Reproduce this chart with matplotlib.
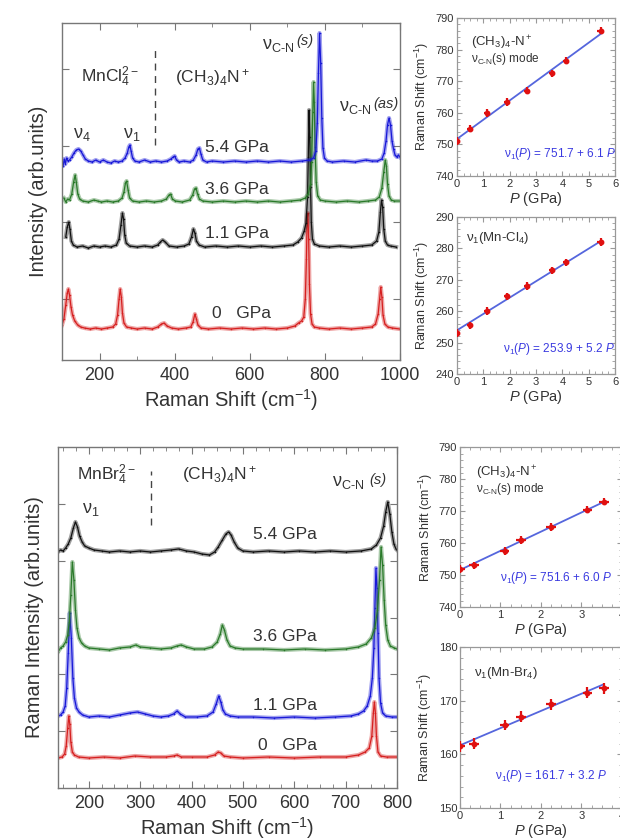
import matplotlib
matplotlib.use("Agg")
import matplotlib.pyplot as plt
from matplotlib.ticker import MultipleLocator, FixedLocator
import numpy as np

plt.rcParams['font.family'] = ['Liberation Sans', 'DejaVu Sans']
plt.rcParams['mathtext.fontset'] = 'custom'
plt.rcParams['mathtext.rm'] = 'Liberation Sans'
plt.rcParams['mathtext.it'] = 'Liberation Sans:italic'
plt.rcParams['mathtext.bf'] = 'Liberation Sans:bold'

TXT = '#333333'
SPINE = '#777777'

# ---------------- Raman spectra, (CH3)4N MnCl4 (shift cm-1, intensity above baseline) ----
cl_0gpa = [(100, 4), (105, 10), (110, 24), (114, 36), (117, 40), (120, 34), (124, 22), (128, 14),
           (134, 8), (142, 4), (150, 2), (160, 1), (175, 0), (190, 1), (205, 0), (220, 1), (235, 2),
           (243, 5), (248, 14), (252, 30), (255, 40), (258, 32), (261, 16), (265, 6), (272, 2),
           (285, 1), (300, 0), (320, 1), (340, 0), (355, 2), (365, 5), (372, 6), (380, 3), (392, 1),
           (410, 0), (430, 1), (443, 2), (449, 7), (454, 15), (458, 10), (462, 4), (470, 1), (490, 0),
           (520, 1), (550, 0), (580, 1), (610, 0), (640, 1), (670, 0), (700, 1), (720, 3), (730, 6),
           (738, 8), (744, 12), (748, 30), (751, 70), (753, 110), (755, 116), (757, 90), (759, 45),
           (762, 15), (766, 5), (772, 2), (785, 1), (810, 0), (840, 1), (870, 0), (900, 1), (925, 2),
           (935, 5), (942, 15), (946, 30), (949, 42), (952, 32), (955, 14), (960, 5), (968, 2),
           (980, 1), (1000, 0)]
cl_1p1gpa = [(110, 10), (114, 20), (118, 25), (121, 18), (125, 6), (130, 2), (140, 0), (155, 1),
             (170, -1), (185, 1), (200, 0), (215, 1), (230, 0), (245, 2), (252, 8), (257, 22),
             (261, 34), (264, 28), (267, 12), (271, 4), (280, 1), (300, 0), (320, 1), (340, 0),
             (355, 2), (362, 5), (368, 7), (375, 5), (385, 1), (405, 0), (425, 1), (438, 3), (445, 10),
             (450, 18), (454, 14), (458, 6), (465, 2), (480, 0), (510, 1), (540, 0), (570, 1), (600, 0),
             (630, 1), (660, 0), (690, 1), (715, 2), (728, 5), (738, 9), (745, 16), (750, 24),
             (754, 50), (756, 90), (758, 137), (760, 110), (762, 60), (764, 25), (767, 8), (772, 3),
             (785, 1), (810, 0), (840, 1), (870, 0), (900, 1), (925, 2), (938, 6), (944, 15),
             (948, 35), (951, 47), (954, 40), (957, 18), (961, 6), (967, 2), (975, 1), (990, 0)]
cl_3p6gpa = [(105, 4), (110, 0), (115, 3), (120, 2), (126, 8), (131, 20), (135, 27), (138, 20),
             (142, 8), (147, 3), (155, 1), (170, 0), (185, 2), (195, 1), (205, 0), (220, 1), (235, 0),
             (250, 1), (260, 4), (265, 10), (269, 19), (272, 21), (276, 12), (280, 4), (288, 1),
             (305, 0), (325, 1), (345, 0), (365, 1), (378, 3), (385, 7), (389, 8), (394, 3), (402, 1),
             (420, 0), (440, 2), (448, 7), (453, 13), (457, 14), (461, 8), (466, 3), (475, 1), (500, 0),
             (530, 1), (560, 0), (590, 1), (620, 0), (650, 1), (680, 0), (710, 1), (735, 2), (748, 4),
             (756, 8), (762, 18), (765, 40), (768, 90), (770, 120), (772, 100), (774, 55), (777, 20),
             (781, 6), (788, 2), (800, 1), (830, 0), (860, 1), (890, 0), (915, 1), (935, 2), (945, 5),
             (952, 14), (957, 30), (961, 42), (964, 36), (967, 18), (971, 6), (977, 2), (985, 1),
             (1000, 1)]
cl_5p4gpa = [(100, 2), (103, -3), (106, 4), (109, -1), (112, 5), (116, 2), (120, 3), (126, 6),
             (132, 10), (138, 13), (144, 14), (150, 12), (156, 8), (162, 4), (170, 2), (180, 1),
             (190, 3), (200, 1), (210, 3), (220, 1), (230, 0), (240, 2), (250, 1), (260, 2), (268, 5),
             (274, 10), (278, 16), (281, 18), (284, 12), (288, 5), (294, 2), (305, 1), (320, 3),
             (335, 1), (350, 2), (365, 1), (380, 2), (390, 4), (396, 6), (400, 7), (405, 3), (412, 1),
             (425, 2), (440, 1), (450, 3), (457, 8), (462, 14), (466, 15), (470, 9), (475, 3), (485, 1),
             (500, 2), (530, 1), (560, 2), (590, 1), (620, 2), (650, 1), (680, 2), (710, 1), (740, 2),
             (760, 3), (770, 5), (776, 12), (780, 40), (783, 90), (786, 130), (789, 100), (792, 45),
             (795, 15), (799, 5), (806, 2), (820, 1), (850, 2), (880, 1), (910, 3), (925, 2), (940, 2),
             (952, 4), (958, 10), (963, 22), (967, 38), (971, 45), (975, 38), (979, 22), (983, 14),
             (987, 8), (992, 6), (996, 8), (1000, 6)]

# ---------------- Raman spectra, (CH3)4N MnBr4 ----------------
br_0gpa = [(140, 0), (148, 1), (153, 4), (156, 12), (159, 30), (161, 42), (163, 34), (165, 16),
           (168, 6), (172, 3), (180, 1), (200, 0), (230, 1), (260, 0), (290, 2), (320, 1), (350, 1),
           (365, 2), (372, 3), (380, 1), (400, 1), (430, 1), (445, 3), (452, 6), (457, 5), (463, 2),
           (475, 1), (500, 0), (550, 1), (600, 0), (650, 1), (700, 1), (725, 3), (738, 6), (746, 10),
           (751, 22), (754, 45), (756, 56), (758, 45), (760, 22), (763, 6), (768, 2), (780, 1),
           (800, 1)]
br_1p1gpa = [(140, 2), (145, 3), (150, 6), (154, 12), (157, 30), (160, 65), (163, 105), (166, 80),
             (169, 40), (172, 20), (176, 10), (181, 6), (188, 3), (200, 1), (220, 2), (240, 1),
             (260, 3), (280, 5), (295, 6), (310, 4), (325, 2), (340, 1), (355, 2), (365, 4), (372, 7),
             (378, 4), (388, 1), (410, 1), (430, 2), (442, 6), (448, 14), (453, 22), (457, 16),
             (461, 8), (466, 4), (475, 2), (490, 1), (520, 1), (560, 0), (600, 1), (640, 0), (680, 1),
             (710, 2), (725, 4), (735, 7), (742, 12), (748, 22), (752, 40), (755, 70), (757, 110),
             (759, 150), (761, 130), (763, 85), (765, 40), (768, 15), (772, 5), (778, 2), (790, 1),
             (800, 1)]
br_3p6gpa = [(140, -2), (145, 2), (150, 4), (155, 8), (159, 15), (162, 28), (165, 55), (168, 88),
             (171, 70), (174, 40), (177, 22), (181, 12), (186, 7), (192, 4), (200, 2), (220, 1),
             (240, 0), (260, 2), (280, 3), (292, 5), (300, 3), (320, 2), (340, 1), (360, 2), (372, 4),
             (380, 5), (390, 3), (405, 1), (425, 1), (440, 3), (450, 8), (456, 16), (460, 25),
             (464, 20), (469, 10), (475, 4), (485, 2), (500, 1), (540, 1), (580, 0), (620, 1), (660, 0),
             (700, 1), (725, 3), (740, 6), (750, 12), (757, 22), (762, 40), (766, 70), (769, 103),
             (772, 85), (775, 50), (778, 25), (782, 10), (787, 4), (795, 2), (800, 1)]
br_5p4gpa = [(140, 0), (145, 2), (150, 1), (155, 4), (160, 8), (165, 14), (170, 24), (174, 30),
             (178, 25), (182, 16), (187, 10), (192, 6), (200, 4), (210, 2), (225, 1), (240, 0),
             (260, 1), (280, 0), (300, 1), (320, 0), (340, 1), (360, 2), (375, 3), (390, 1), (405, 0),
             (420, -2), (435, -3), (445, 0), (452, 5), (460, 12), (467, 18), (472, 20), (477, 17),
             (483, 10), (490, 4), (500, 1), (520, 0), (550, 1), (580, 0), (610, 1), (640, 0), (670, 1),
             (700, 0), (730, 1), (750, 3), (760, 7), (768, 14), (774, 26), (778, 40), (782, 50),
             (786, 38), (790, 20), (794, 8), (798, 3), (800, 2)]

pressure_labels = ['0   GPa', '1.1 GPa', '3.6 GPa', '5.4 GPa']
spec_colors = ['#d62020', '#111111', '#2a7a2a', '#1818d8']
br_colors = ['#d62020', '#1818d8', '#2a7a2a', '#111111']

# ---------------- Pressure dependence of mode frequencies ----------------
p_cl = [0.0, 0.5, 1.15, 1.9, 2.65, 3.6, 4.15, 5.45]
cn_cl = [751.0, 755.0, 760.0, 763.5, 767.0, 772.5, 776.5, 786.0]
mncl = [253.0, 255.5, 260.0, 264.7, 268.0, 273.0, 275.5, 282.0]
p_br = [0.0, 0.35, 1.1, 1.5, 2.25, 3.15, 3.55]
cn_br = [752.0, 753.0, 757.5, 761.0, 765.0, 770.5, 773.0]
mnbr = [161.5, 162.0, 165.5, 167.0, 169.3, 171.5, 172.3]

fits = {
    'cn_cl': (751.7, 6.1),
    'mncl': (253.9, 5.2),
    'cn_br': (751.6, 6.0),
    'mnbr': (161.7, 3.2),
}

fig = plt.figure(figsize=(6.2, 8.4), dpi=100)


def style_spectrum_axes(ax):
    for s in ax.spines.values():
        s.set_color(SPINE)
        s.set_linewidth(1.0)
    ax.tick_params(axis='both', which='both', direction='in', top=True, right=True,
                   color=SPINE, labelcolor=TXT)
    ax.tick_params(axis='x', which='major', length=5, labelsize=13, pad=5)
    ax.tick_params(axis='x', which='minor', length=3)
    ax.tick_params(axis='y', which='major', length=5, labelleft=False)


def draw_spectrum(ax, data, offset, color):
    x = [d[0] for d in data]
    y = [d[1] + offset for d in data]
    ax.plot(x, y, color=color, lw=3.0, alpha=0.4, solid_joinstyle='round')
    ax.plot(x, y, color=color, lw=0.9, marker='.', ms=2.2, mew=0)


# ---------- upper spectra ----------
ax1 = fig.add_axes([0.100, 0.5714, 0.545, 0.4012])
cl_sets = [cl_0gpa, cl_1p1gpa, cl_3p6gpa, cl_5p4gpa]
cl_offsets = [31, 113, 158, 197]
for d, off, c in zip(cl_sets, cl_offsets, spec_colors):
    draw_spectrum(ax1, d, off, c)
ax1.set_xlim(100, 1000)
ax1.set_ylim(0, 337)
ax1.xaxis.set_major_locator(MultipleLocator(200))
ax1.xaxis.set_minor_locator(MultipleLocator(100))
ax1.yaxis.set_major_locator(FixedLocator([61, 138, 214, 291]))
style_spectrum_axes(ax1)
ax1.set_xlabel('Raman Shift (cm$^{-1}$)', fontsize=14.5, color=TXT, labelpad=2)
ax1.set_ylabel('Intensity (arb.units)', fontsize=14.5, color=TXT, labelpad=10)

for lab, y in zip(pressure_labels, [47, 127, 171, 213]):
    x = 500 if lab.startswith('0') else 482
    ax1.text(x, y, lab, fontsize=12.5, color=TXT, va='center', ha='left')
ax1.text(150, 283, 'MnCl$_4^{2-}$', fontsize=12.5, color=TXT, va='center')
ax1.text(402, 283, '(CH$_3$)$_4$N$^+$', fontsize=12.5, color=TXT, va='center')
ax1.plot([349, 349], [215, 312], color='#444444', lw=1.0, ls=(0, (5, 4)))
ax1.text(128, 226, 'ν$_4$', fontsize=13, color=TXT, va='center')
ax1.text(262, 226, 'ν$_1$', fontsize=13, color=TXT, va='center')
ax1.text(633, 315, 'ν$_{\\rm C\\text{-}N}$', fontsize=13, color=TXT, va='center')
ax1.text(725, 319, '(s)', fontsize=10.5, color=TXT, va='center', style='italic')
ax1.text(839, 253, 'ν$_{\\rm C\\text{-}N}$', fontsize=13, color=TXT, va='center')
ax1.text(928, 256, '(as)', fontsize=10.5, color=TXT, va='center', style='italic')

# ---------- lower spectra ----------
ax2 = fig.add_axes([0.0935, 0.0619, 0.5468, 0.406])
br_sets = [br_0gpa, br_1p1gpa, br_3p6gpa, br_5p4gpa]
br_offsets = [30, 70, 138, 236]
for d, off, c in zip(br_sets, br_offsets, br_colors):
    draw_spectrum(ax2, d, off, c)
ax2.set_xlim(140, 800)
ax2.set_ylim(0, 341)
ax2.xaxis.set_major_locator(MultipleLocator(100))
ax2.xaxis.set_minor_locator(MultipleLocator(25))
ax2.yaxis.set_major_locator(FixedLocator([57, 114, 170, 227, 284]))
style_spectrum_axes(ax2)
ax2.set_xlabel('Raman Shift (cm$^{-1}$)', fontsize=14.5, color=TXT, labelpad=2)
ax2.set_ylabel('Raman Intensity (arb.units)', fontsize=14.5, color=TXT, labelpad=10)

for lab, y in zip(pressure_labels, [42, 82, 151, 253]):
    x = 530 if lab.startswith('0') else 520
    ax2.text(x, y, lab, fontsize=12.5, color=TXT, va='center', ha='left')
ax2.text(177, 313, 'MnBr$_4^{2-}$', fontsize=12.5, color=TXT, va='center')
ax2.text(381, 313, '(CH$_3$)$_4$N$^+$', fontsize=12.5, color=TXT, va='center')
ax2.plot([322, 322], [263, 317], color='#444444', lw=1.0, ls=(0, (5, 4)))
ax2.text(186, 278, 'ν$_1$', fontsize=13, color=TXT, va='center')
ax2.text(673, 305, 'ν$_{\\rm C\\text{-}N}$', fontsize=13, color=TXT, va='center')
ax2.text(746, 308, '(s)', fontsize=10.5, color=TXT, va='center', style='italic')


# ---------- pressure dependence panels ----------
def pressure_panel(rect, p, w, fit, xmax, ylim, ystep, title_lines, title_xy, eq_xy, yerr):
    ax = fig.add_axes(rect)
    ax.errorbar(p, w, xerr=0.12, yerr=yerr, fmt='o', ms=3.2, color='#e01010',
                ecolor='#e01010', elinewidth=1.6, capsize=0, zorder=3)
    a, b = fit
    px = np.array([0.0, max(p)])
    ax.plot(px, a + b * px, color='#5566dd', lw=1.3, zorder=2)
    ax.set_xlim(0, xmax)
    ax.set_ylim(*ylim)
    ax.xaxis.set_major_locator(MultipleLocator(1))
    ax.xaxis.set_minor_locator(MultipleLocator(0.25))
    ax.yaxis.set_major_locator(MultipleLocator(ystep))
    ax.yaxis.set_minor_locator(MultipleLocator(ystep / 5))
    for s in ax.spines.values():
        s.set_color('#999999')
        s.set_linewidth(0.9)
    ax.tick_params(axis='both', which='both', direction='in', top=True, right=True,
                   color='#999999', labelcolor=TXT, labelsize=8)
    ax.tick_params(which='major', length=3.5, pad=2)
    ax.tick_params(which='minor', length=2)
    ax.set_ylabel('Raman Shift (cm$^{-1}$)', fontsize=9, color=TXT, labelpad=3)
    ax.set_xlabel('$\\it{P}$ (GPa)', fontsize=10.5, color=TXT, labelpad=1)
    tx, ty = title_xy
    dy = (ylim[1] - ylim[0]) * 0.1
    for i, line in enumerate(title_lines):
        ax.text(tx, ty - i * dy, line, fontsize=9.5 if i == 0 else 8.5, color=TXT, va='center')
    ax.text(eq_xy[0], eq_xy[1],
            'ν$_1$($\\it{P}$) = %.1f + %.1f $\\it{P}$' % (a, b),
            fontsize=8.5, color='#3a3ae0', va='center')
    return ax


pressure_panel([0.737, 0.7905, 0.255, 0.188], p_cl, cn_cl, fits['cn_cl'], 6, (740, 790), 10,
               ['(CH$_3$)$_4$-N$^+$', 'ν$_{\\rm C\\text{-}N}$(s) mode'], (0.55, 782), (1.8, 747), 1.2)
pressure_panel([0.737, 0.5548, 0.255, 0.187], p_cl, mncl, fits['mncl'], 6, (240, 290), 10,
               ['ν$_1$(Mn-Cl$_4$)'], (0.35, 283.3), (1.75, 248), 1.2)
pressure_panel([0.742, 0.2774, 0.261, 0.190], p_br, cn_br, fits['cn_br'], 4, (740, 790), 10,
               ['(CH$_3$)$_4$-N$^+$', 'ν$_{\\rm C\\text{-}N}$(s) mode'], (0.4, 782), (1.0, 749), 1.2)
pressure_panel([0.742, 0.038, 0.261, 0.1917], p_br, mnbr, fits['mnbr'], 4, (150, 180), 10,
               ['ν$_1$(Mn-Br$_4$)'], (0.35, 175.2), (0.86, 156), 1.0)

fig.savefig('out.png', dpi=100)
